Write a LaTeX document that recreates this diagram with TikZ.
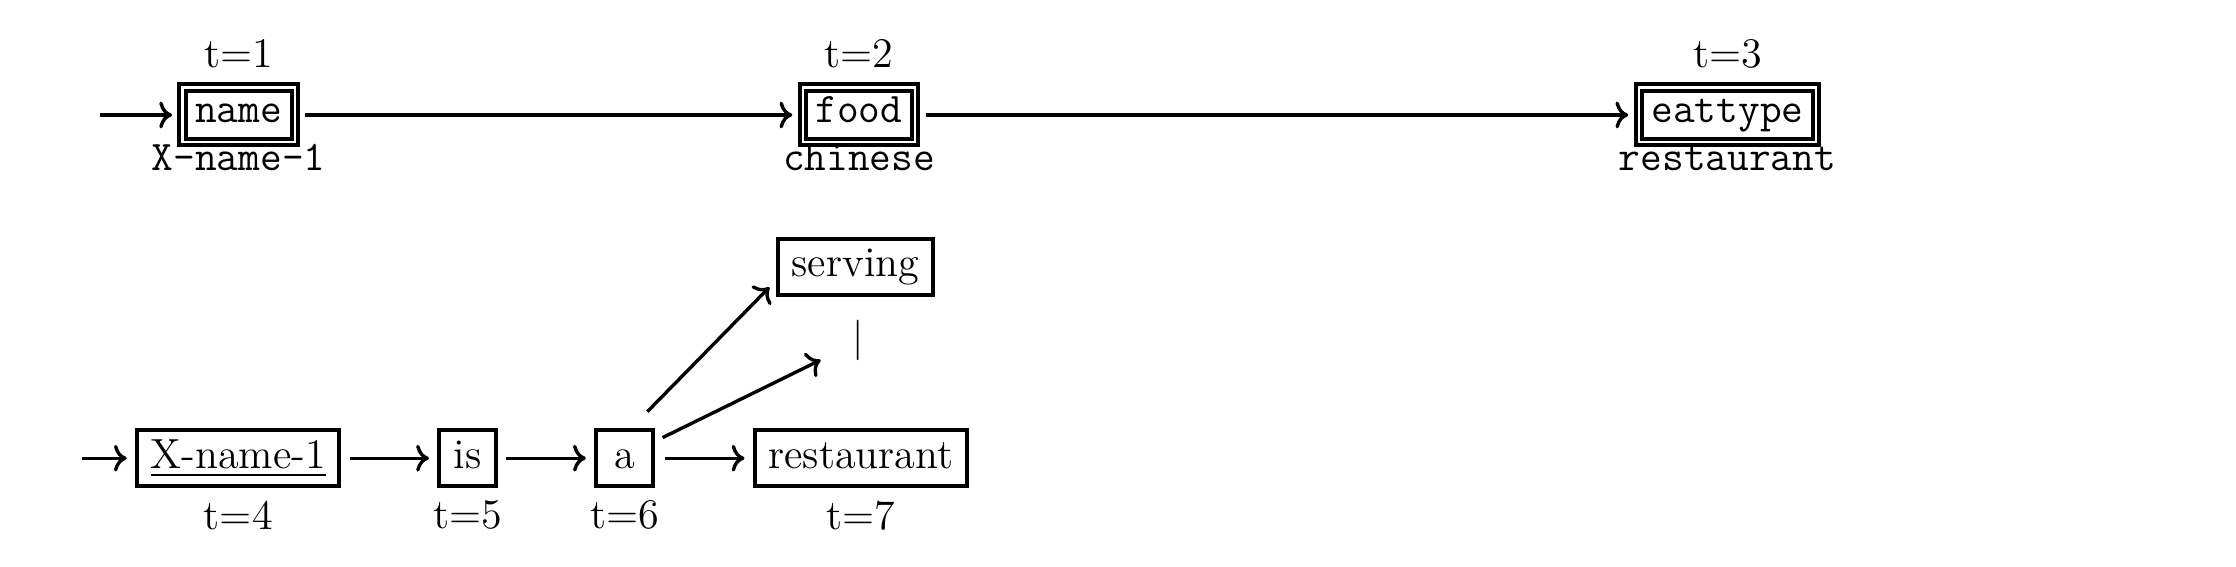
\documentclass[tikz,border=0pt]{standalone}
\usepackage{amsmath, amssymb}
\usetikzlibrary{arrows.meta, positioning}

\newcommand{\wordsize}{\fontsize{12.5pt}{15pt}\selectfont}

\tikzset{
  slotbox/.style={draw, double, line width=1.2pt, double distance=0.6pt, font=\wordsize\ttfamily,
    inner xsep=3.8pt, inner ysep=3pt, text height=7.4pt, text depth=2.9pt},
  wordbox/.style={draw, line width=1.2pt, font=\wordsize, minimum width=16.8pt,
    inner xsep=4pt, inner ysep=3pt, text height=8.4pt, text depth=2.3pt},
  tlab/.style={font=\wordsize, inner sep=2pt},
  vallab/.style={font=\wordsize\ttfamily, inner sep=0pt, text height=7pt, text depth=0pt},
  flow/.style={->, line width=1pt, shorten <=2.5pt, shorten >=2.5pt},
}

\begin{document}
\begin{tikzpicture}
    \useasboundingbox (0,0) rectangle (23.316,-5.912);
    % slot sequence (top row)
    \coordinate (in1) at (0.955,-1.199);
    \node[slotbox] (name) at (2.489,-1.199) {name};
    \node[slotbox] (food) at (8.957,-1.199) {food};
    \node[slotbox] (eattype) at (18.013,-1.199) {eattype};
    \node[tlab, above=3pt of name] (t1) {t=1};
    \node[tlab, above=3pt of food] (t2) {t=2};
    \node[tlab, above=3pt of eattype] (t3) {t=3};
    \node[vallab, below=0.4pt of name] (v1) {X-name-1};
    \node[vallab, below=0.4pt of food] (v2) {chinese};
    \node[vallab, below=0.4pt of eattype] (v3) {restaurant};
    \draw[flow] (in1) -- (name);
    \draw[flow] (name) -- (food);
    \draw[flow] (food) -- (eattype);

    % word sequence (bottom row)
    \coordinate (in2) at (0.767,-4.778);
    \node[wordbox] (xname) at (2.485,-4.778) {\underline{X-name-1}};
    \node[wordbox] (is) at (4.877,-4.778) {is};
    \node[wordbox] (a) at (6.513,-4.778) {a};
    \node[wordbox] (rest) at (8.976,-4.778) {restaurant};
    \node[wordbox] (serving) at (8.919,-2.781) {serving};
    \node[font=\large] (more) at (8.947,-3.554) {$|$};
    \node[tlab, below=1.5pt of xname] (t4) {t=4};
    \node[tlab, below=1.5pt of is] (t5) {t=5};
    \node[tlab, below=1.5pt of a] (t6) {t=6};
    \node[tlab, below=1.5pt of rest] (t7) {t=7};
    \draw[flow] (in2) -- (xname);
    \draw[flow] (xname) -- (is);
    \draw[flow] (is) -- (a);
    \draw[flow, shorten <=3pt] (a) -- (rest);
    \draw[flow, shorten <=0pt, shorten >=0pt] ([shift={(-0.08,0.17)}]a.north east) -- ([shift={(-0.07,0.10)}]serving.south west);
    \draw[flow, shorten <=0pt, shorten >=0pt] ([shift={(0.08,-0.10)}]a.north east) -- ([shift={(-0.39,-0.20)}]more.center);
\end{tikzpicture}
\end{document}
